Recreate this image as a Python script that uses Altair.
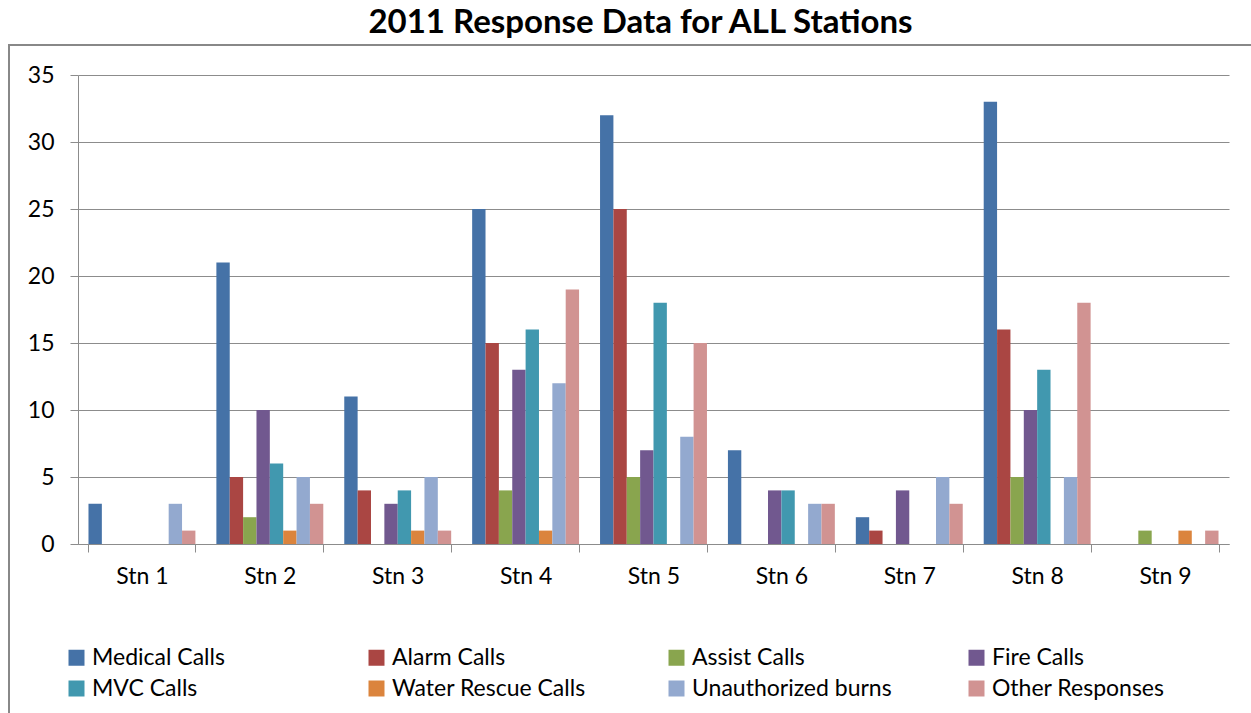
import altair as alt
import pandas as pd

# Station categories and response types
stations = ["Stn 1", "Stn 2", "Stn 3", "Stn 4", "Stn 5", "Stn 6", "Stn 7", "Stn 8", "Stn 9"]
series = [
    "Medical Calls", "Alarm Calls", "Assist Calls", "Fire Calls",
    "MVC Calls", "Water Rescue Calls", "Unauthorized burns", "Other Responses",
]
colors = ["#4572A7", "#AA4643", "#89A54E", "#71588F",
          "#4198AF", "#DB843D", "#93A9CF", "#D19392"]

# Counts per station, one list per response type
medical = [3, 21, 11, 25, 32, 7, 2, 33, 0]
alarm = [0, 5, 4, 15, 25, 0, 1, 16, 0]
assist = [0, 2, 0, 4, 5, 0, 0, 5, 1]
fire = [0, 10, 3, 13, 7, 4, 4, 10, 0]
mvc = [0, 6, 4, 16, 18, 4, 0, 13, 0]
water = [0, 1, 1, 1, 0, 0, 0, 0, 1]
unauthorized = [3, 5, 5, 12, 8, 3, 5, 5, 0]
other = [1, 3, 1, 19, 15, 3, 3, 18, 1]

values = [medical, alarm, assist, fire, mvc, water, unauthorized, other]

rows = []
for name, vals in zip(series, values):
    for stn, v in zip(stations, vals):
        rows.append({"Station": stn, "Type": name, "Count": v})
df = pd.DataFrame(rows)

# The legend grid fills column by column (2 rows x 4 columns), so the colour
# domain is interleaved to read row by row in series order.
n_cols = 4
legend_order = [series[r * n_cols + c] for c in range(n_cols) for r in range(2)]
legend_colors = [colors[series.index(s)] for s in legend_order]

FONT = "Lato"
GRID = "#8c8c8c"

bars = alt.Chart(df).mark_bar(stroke=None).encode(
    x=alt.X(
        "Station:N",
        sort=stations,
        title=None,
        scale=alt.Scale(paddingInner=0.164, paddingOuter=0.082),
        axis=alt.Axis(
            labelAngle=0, labelFontSize=23, labelFont=FONT, labelColor="#000000",
            tickBand="extent", tickSize=8, tickColor=GRID, domainColor=GRID,
            labelPadding=13, grid=False,
        ),
    ),
    xOffset=alt.XOffset("Type:N", sort=series,
                        scale=alt.Scale(paddingInner=0, paddingOuter=0)),
    y=alt.Y(
        "Count:Q",
        title=None,
        scale=alt.Scale(domain=[0, 35], nice=False),
        axis=alt.Axis(
            values=[0, 5, 10, 15, 20, 25, 30, 35], labelFontSize=23, labelFont=FONT,
            labelColor="#000000", tickSize=8, tickColor=GRID, domainColor=GRID,
            gridColor=GRID, labelPadding=16,
        ),
    ),
    color=alt.Color(
        "Type:N",
        scale=alt.Scale(domain=legend_order, range=legend_colors),
        legend=alt.Legend(
            title=None, orient="none", legendX=-13, legendY=571, columns=n_cols,
            symbolType="square", symbolSize=256, symbolStrokeWidth=0,
            labelFontSize=23, labelFont=FONT, labelColor="#000000",
            gridAlign="all", columnPadding=73, rowPadding=7, labelOffset=4,
            labelLimit=400,
        ),
    ),
)

# Outer chart frame
frame = alt.Chart(alt.Data(values=[{}])).mark_rect(
    fill=None, stroke="#888888", strokeWidth=2
).encode(
    x=alt.value(-69), y=alt.value(-30), x2=alt.value(1200), y2=alt.value(660)
)

chart = alt.layer(frame, bars).properties(
    width=1151,
    height=469,
    padding={"left": 78, "top": 75, "right": 22, "bottom": 169},
    autosize=alt.AutoSizeParams(type="none"),
    title=alt.Title(
        "2011 Response Data for ALL Stations",
        fontSize=33, font=FONT, fontWeight="bold", color="#000000",
        anchor="middle", dx=-13, dy=32, baseline="alphabetic", offset=10,
    ),
).configure_view(stroke=None)

chart.save("out.html", embed_options={"renderer": "svg", "actions": False})
